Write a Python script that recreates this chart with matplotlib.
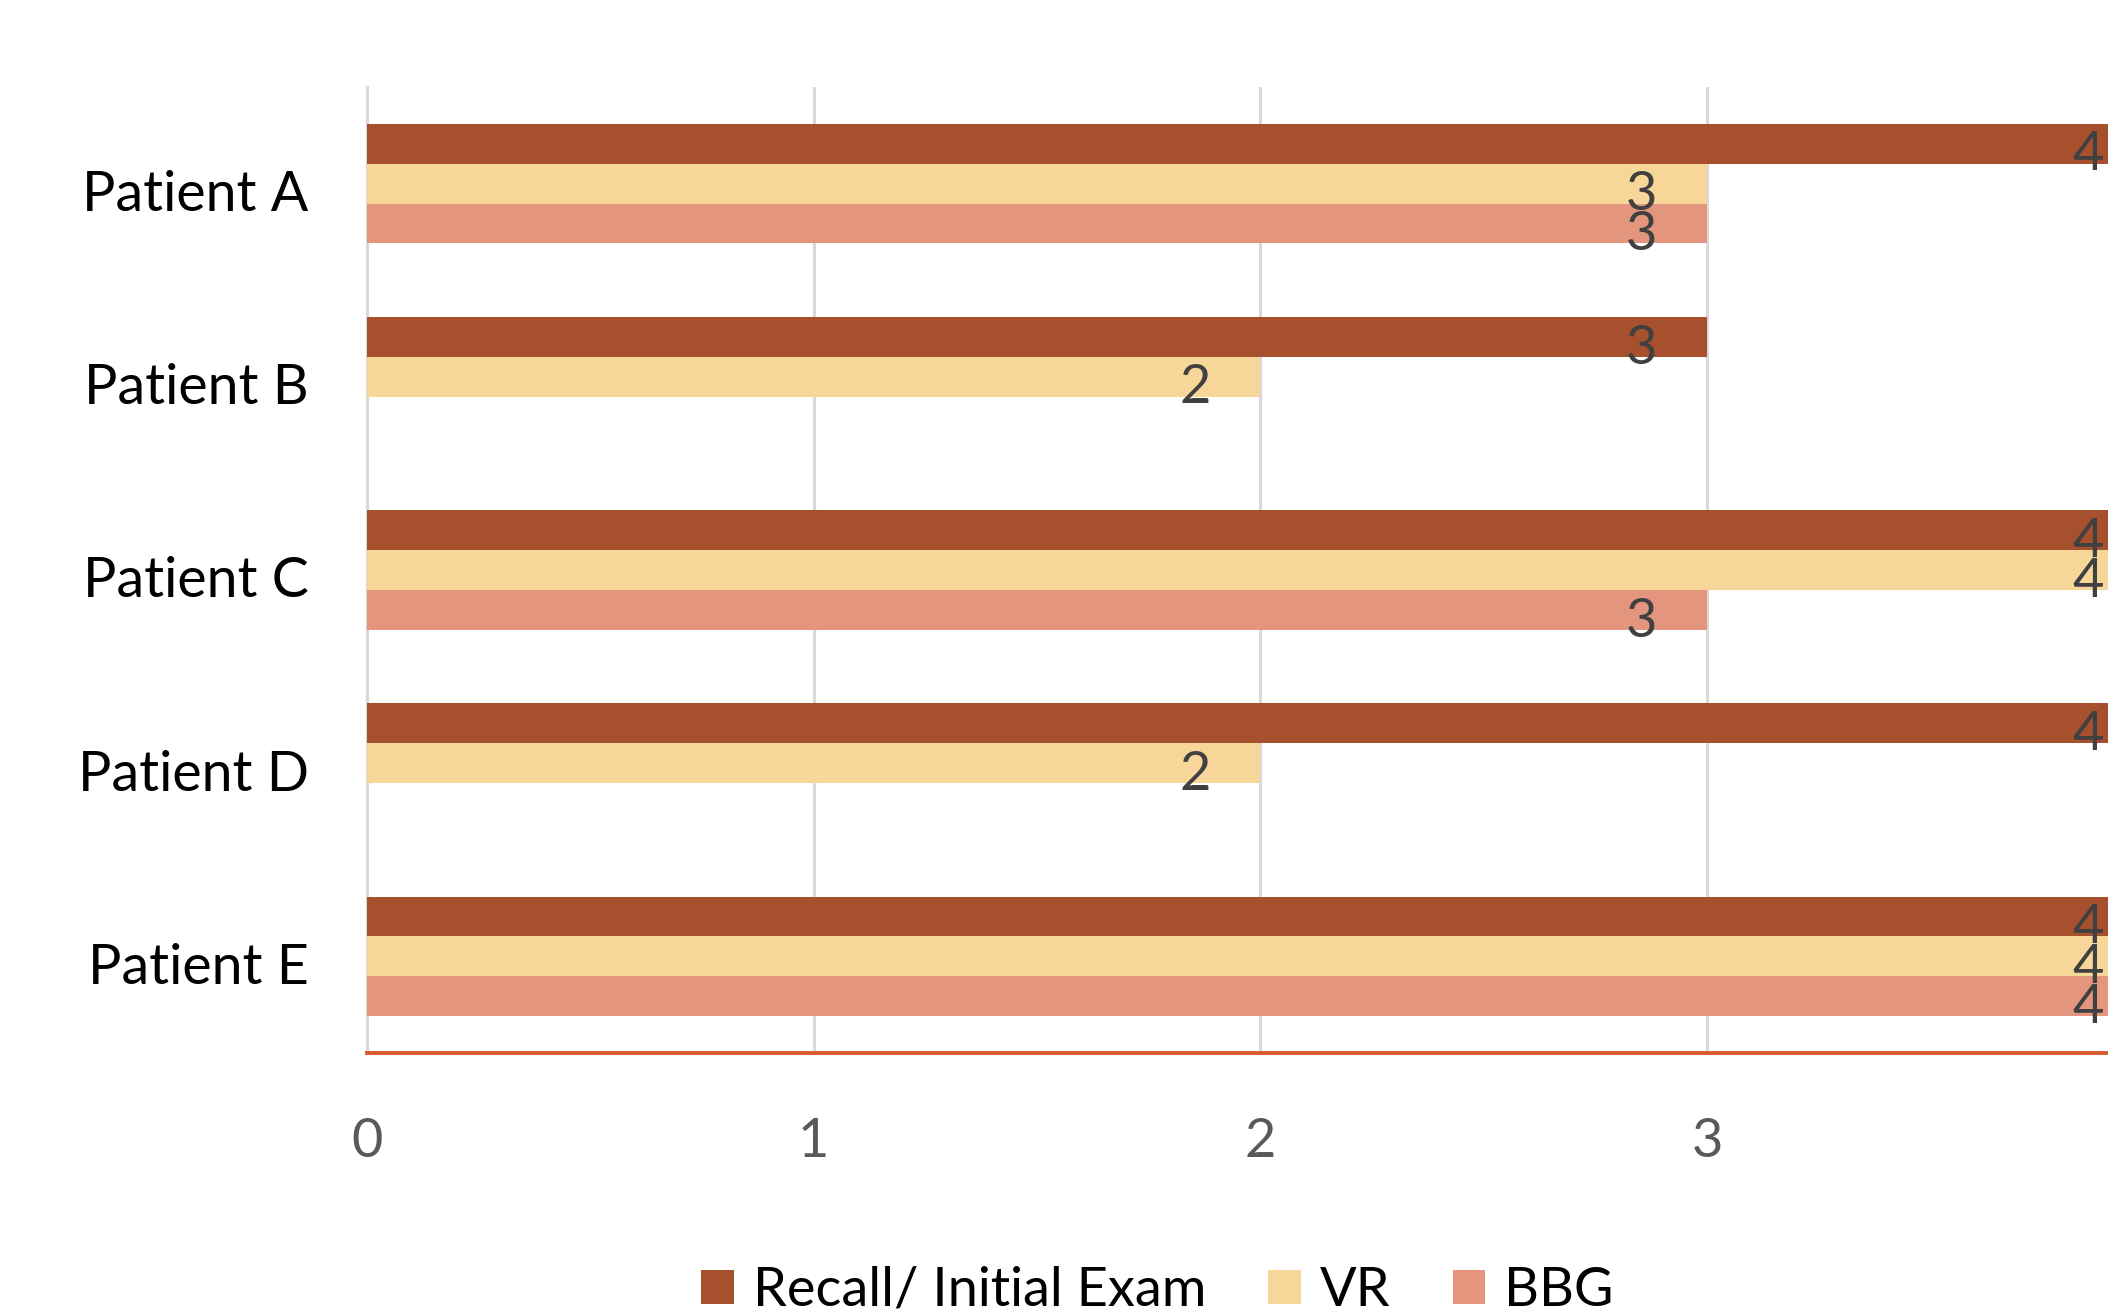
import matplotlib.pyplot as plt
import matplotlib.transforms as mtransforms
import numpy as np

# Scores for each patient
patients = ['Patient A', 'Patient B', 'Patient C', 'Patient D', 'Patient E']
recall = [4, 3, 4, 4, 4]
vr = [3, 2, 4, 2, 4]
bbg = [3, np.nan, 3, np.nan, 4]

series_names = ['Recall/ Initial Exam', 'VR', 'BBG']
colors = ['#A6502E', '#F6D699', '#E3967D']

plt.rcParams['font.family'] = ['Lato', 'DejaVu Sans']

fig = plt.figure(figsize=(21.08, 13.14), dpi=100)
# the value axis runs on past the right edge of the canvas
ax = fig.add_axes([0.1741, 0.1986, 0.9536, 0.7352])

y = np.arange(len(patients))
h = 0.2065
for i, (name, vals, col) in enumerate(zip(series_names, [recall, vr, bbg], colors)):
    pos = y + (i - 1) * h
    ax.barh(pos, vals, height=h, color=col, label=name, zorder=3)
    for p, v in zip(pos, vals):
        if np.isnan(v):
            continue
        ax.annotate(str(int(v)), xy=(v, p), xytext=(-36, -8), textcoords='offset points',
                    ha='right', va='center', fontsize=39, color='#404040', zorder=4)

ax.set_xlim(0, 4.5)
ax.set_ylim(4.5, -0.5)
ax.set_xticks([0, 1, 2, 3])
ax.set_yticks(y)
ax.set_yticklabels(patients)

# gridline at 4 (ticks stop at 3)
ax.axvline(4, color='#D9D9D9', linewidth=2.2, zorder=0)
ax.grid(axis='x', color='#D9D9D9', linewidth=2.2, zorder=0)
ax.tick_params(axis='x', length=0, pad=46, labelsize=39, labelcolor='#595959')
ax.tick_params(axis='y', length=0, pad=42, labelsize=40, labelcolor='black')

# nudge patient names down a little
shift = mtransforms.ScaledTranslation(0, -5 / 72, fig.dpi_scale_trans)
for lab in ax.get_yticklabels():
    lab.set_transform(lab.get_transform() + shift)

for s in ['top', 'right']:
    ax.spines[s].set_visible(False)
ax.spines['left'].set_color('#D9D9D9')
ax.spines['left'].set_linewidth(2.2)
ax.spines['bottom'].set_color('#DA5A2F')
ax.spines['bottom'].set_linewidth(2.8)
ax.spines['bottom'].set_zorder(5)

fig.legend(loc='center', bbox_to_anchor=(0.549, 0.018), ncol=3, frameon=False,
           fontsize=39, handlelength=0.6, handleheight=0.6, handletextpad=0.35,
           columnspacing=1.15)

fig.savefig('out.png', dpi=100)
